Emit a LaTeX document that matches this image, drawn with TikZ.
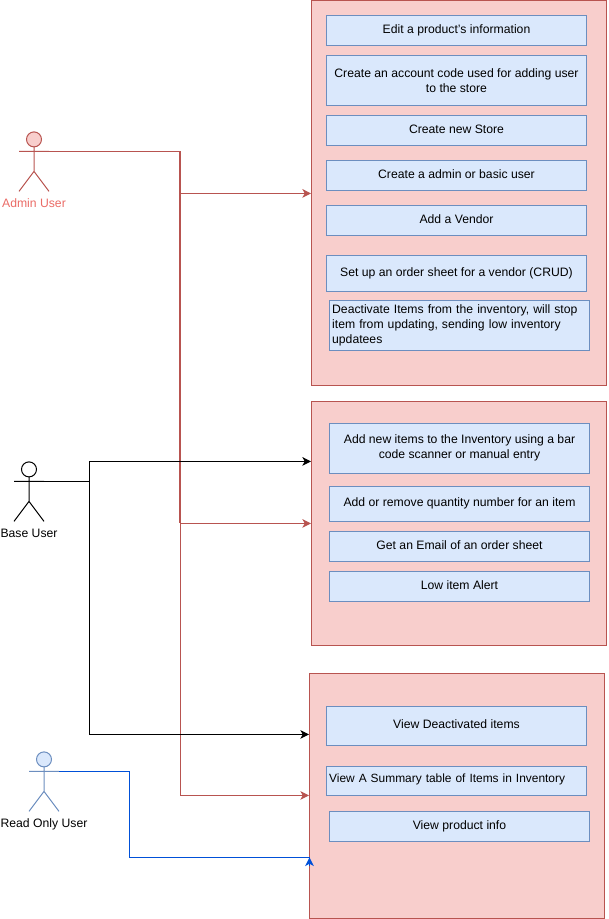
\documentclass[tikz,border=0pt]{standalone}
\usepackage{fontspec}
\setmainfont{Liberation Sans}
\usetikzlibrary{arrows.meta,positioning}
\definecolor{panelfill}{HTML}{F8CECC}
\definecolor{paneldraw}{HTML}{B85450}
\definecolor{boxfill}{HTML}{DAE8FC}
\definecolor{boxdraw}{HTML}{6C8EBF}
\definecolor{adminlabel}{HTML}{EA6B66}
\definecolor{readline}{HTML}{0050D8}
\tikzset{
  panelbox/.style={rectangle, draw=paneldraw, fill=panelfill, line width=0.75pt, minimum width=221.25pt},
  itembox/.style={rectangle, draw=boxdraw, fill=boxfill, line width=0.6pt, minimum width=195pt, minimum height=22.5pt, inner sep=1pt, align=center},
  itemline/.style={itembox, text height=6.5pt, text depth=2pt},
  actorlabel/.style={inner sep=0pt, text height=6.5pt, text depth=2pt},
  adminline/.style={draw=paneldraw, line width=0.75pt},
  baseline/.style={draw=black, line width=0.75pt},
  readonlyline/.style={draw=readline, line width=0.75pt},
  actor/.pic={
    \draw[pic actions] (0,0) circle (7.5);
    \draw[pic actions, fill=none] (0,7.5) -- (0,32) (-15,12) -- (15,12) (-15,52) -- (0,32) -- (15,52);
    \coordinate (-arm) at (15,12);
  }
}
\begin{document}
\begin{tikzpicture}[x=0.75pt,y=-0.75pt,>={Stealth[length=6.5pt,width=6.5pt,inset=1.8pt]},font=\fontsize{9.15}{11.25}\selectfont]
        \useasboundingbox (0,0) rectangle (608,919);
        % panels
        \node[panelbox, minimum height=288.75pt] (panelAdmin) at (459,192.8) {};
        \node[panelbox, minimum height=183pt] (panelBase) at (459,523.2) {};
        \node[panelbox, minimum height=183.75pt] (panelRead) at (457,795.7) {};
        % admin items
        \node[itemline] (editInfo) at (456.5,30.3) {Edit a product's information};
        \node[itembox, minimum height=37.5pt] (accountCode) at (456.5,80.3) {Create an account code used for adding user\\to the store};
        \node[itemline] (newStore) at (456.5,130.3) {Create new Store};
        \node[itemline] (newUser) at (456.5,175.3) {Create a admin or basic user};
        \node[itemline] (addVendor) at (456.5,220.3) {Add a Vendor};
        \node[itemline, minimum height=27pt] (orderSheet) at (456.5,273.3) {Set up an order sheet for a vendor (CRUD)};
        \node[itembox, minimum height=37.5pt, align=left, text width=191pt] (deactivate) at (459.5,325.3) {Deactivate Items from the inventory, will stop\\item from updating, sending low inventory\\updatees};
        % base items
        \node[itembox, minimum height=37.5pt] (addItems) at (459.5,448.3) {Add new items to the Inventory using a bar\\code scanner or manual entry};
        \node[itemline, minimum height=26.25pt] (quantity) at (459.5,503.8) {Add or remove quantity number for an item};
        \node[itemline] (emailSheet) at (459.5,546.3) {Get an Email of an order sheet};
        \node[itemline] (lowAlert) at (459.5,586.3) {Low item Alert};
        % read only items
        \node[itemline, minimum height=29.25pt] (viewDeact) at (456.5,725.8) {View Deactivated items};
        \node[itemline, minimum height=21.75pt, align=left, text width=191pt, text depth=3.5pt, font=\fontsize{8.95}{11.25}\selectfont] (viewSummary) at (456.5,780.8) {View A Summary table of Items in Inventory};
        \node[itemline] (viewProduct) at (459.5,826.3) {View product info};
        % actors
        \pic[draw=paneldraw, fill=panelfill, line width=0.75pt] (admin) at (34,139.4) {actor};
        \pic[draw=black, fill=white, line width=0.75pt] (base) at (29,469.4) {actor};
        \pic[draw=boxdraw, fill=boxfill, line width=0.75pt] (read) at (44,759.4) {actor};
        \node[actorlabel, text=adminlabel] (adminName) at (34,204.5) {Admin User};
        \node[actorlabel] (baseName) at (29,534.5) {Base User};
        \node[actorlabel] (readName) at (44,824.5) {Read Only User};
        % connectors
        \coordinate (adminBus) at (180,151.4);
        \coordinate (baseBus) at (89,481.4);
        \coordinate (readBus) at (129,771.4);
        \coordinate (readTail) at (309.5,866);
        \coordinate (readTip) at (309.5,857.4);
        \draw[adminline,->] (admin-arm) -- (adminBus) |- (panelAdmin.west |- 0,193.4);
        \draw[adminline,->] (adminBus) |- (panelBase.west |- 0,523.4);
        \draw[adminline,->] (adminBus) |- (panelRead.west |- 0,795.4);
        \draw[adminline, line width=1.5pt] (adminBus) -- (180,523.4);
        \draw[baseline,->] (base-arm) -- (baseBus) |- (panelBase.west |- 0,461.4);
        \draw[baseline,->] (baseBus) |- (panelRead.west |- 0,734.4);
        \draw[readonlyline] (read-arm) -- (readBus) |- (readTip);
        \draw[readonlyline,->] (readTail) -- (readTip);
      \end{tikzpicture}
\end{document}
